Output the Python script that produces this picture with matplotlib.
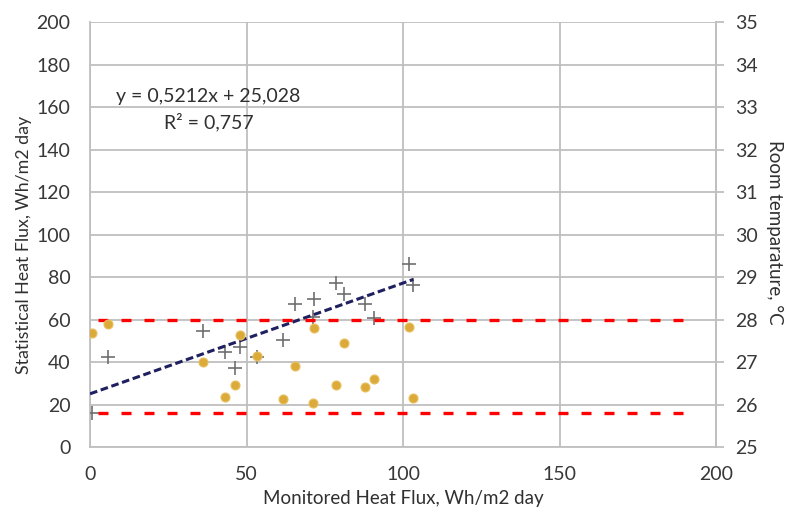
import matplotlib.pyplot as plt
import numpy as np

plt.rcParams['font.family'] = ['Lato', 'DejaVu Sans']

# monitored heat flux (x), statistical heat flux (left axis), room temperature (right axis)
monitored = [0.5, 5.9, 36.2, 43.1, 46.4, 47.8, 53.5, 61.6, 65.6, 71.5, 71.1,
             78.7, 81.2, 87.8, 90.7, 102.0, 103.3]
statistical = [16.1, 42.2, 54.7, 44.6, 37.0, 46.9, 42.3, 50.4, 67.3, 69.6, 61.0,
               77.3, 72.0, 67.2, 60.9, 86.1, 76.2]
room_temp = [27.69, 27.89, 27.00, 26.17, 26.46, 27.63, 27.15, 26.12, 26.91, 27.79, 26.03,
             26.45, 27.45, 26.42, 26.60, 27.83, 26.16]

# linear trend from the chart's own equation
slope = 0.5212
intercept = 25.028
trend_x = [0, 103.3]

# comfort band limits (room temperature, degrees C)
upper_limit = 28.0
lower_limit = 25.8
limit_x = [2.5, 193]

grid_col = '#bfbfbf'
text_col = '#303030'

fig = plt.figure(figsize=(7.87, 5.17), dpi=100)
ax = fig.add_axes([0.1144, 0.1354, 0.7954, 0.822])
ax2 = ax.twinx()

ax.set_xlim(0, 200)
ax.set_ylim(0, 200)
ax.set_xticks(np.arange(0, 201, 50))
ax.set_yticks(np.arange(0, 201, 20))
ax.grid(True, color=grid_col, linewidth=1.3)
ax.set_axisbelow(True)
ax.spines['top'].set_visible(False)
for s in ['left', 'bottom', 'right']:
    ax.spines[s].set_color(grid_col)
    ax.spines[s].set_linewidth(1.3)
ax.tick_params(axis='both', length=0, labelsize=14, colors='#383838')
ax.tick_params(axis='y', pad=14)
ax.tick_params(axis='x', pad=14)

ax.scatter(monitored, statistical, marker='+', s=110, color='#6f6f6f',
           linewidths=1.2, zorder=3)

tx = np.array(trend_x)
ax.plot(tx, slope * tx + intercept, color='#1f2060', linewidth=2.2,
        dashes=(2.5, 1.2), zorder=4)

ax.text(8.3, 165, 'y = 0,5212x + 25,028', fontsize=14, color=text_col,
        va='center', ha='left')
ax.text(38, 153, 'R² = 0,757', fontsize=14, color=text_col,
        va='center', ha='center')

ax.set_xlabel('Monitored Heat Flux, Wh/m2 day', fontsize=13.5, color=text_col,
              labelpad=5)
ax.set_ylabel('Statistical Heat Flux, Wh/m2 day', fontsize=12.8, color=text_col)
ax.yaxis.set_label_coords(-0.093, 0.475)

ax2.set_ylim(25, 35)
ax2.set_yticks(np.arange(25, 36, 1))
ax2.tick_params(axis='y', length=6, color=grid_col, width=1.3,
                labelsize=14, labelcolor='#383838', pad=8)
for s in ['top', 'left', 'bottom']:
    ax2.spines[s].set_visible(False)
ax2.spines['right'].set_color(grid_col)
ax2.spines['right'].set_linewidth(1.3)

ax2.scatter(monitored, room_temp, marker='o', s=42, color='#dcaa38',
            edgecolors='#e8c060', linewidths=0.8, zorder=3)

for lim in [upper_limit, lower_limit]:
    ax2.plot(limit_x, [lim, lim], color='#ff0000', linewidth=2.4,
             dashes=(3, 3.9), zorder=2)

ax2.set_ylabel('Room temparature, °C', fontsize=13.5, color=text_col,
               rotation=270, va='center')
ax2.yaxis.set_label_coords(1.094, 0.505)

fig.savefig('out.png', dpi=100)
